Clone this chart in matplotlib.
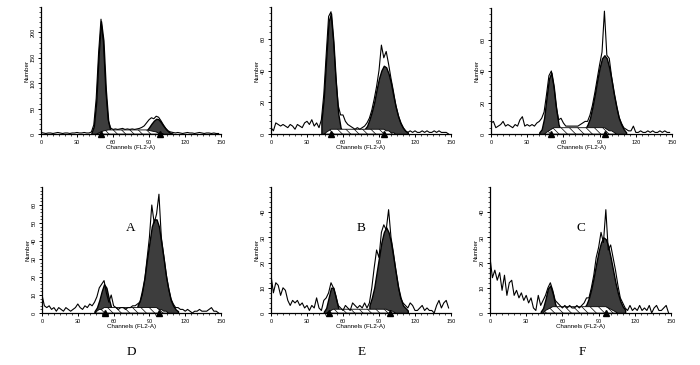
import numpy as np
import matplotlib
matplotlib.use("Agg")
import matplotlib.pyplot as plt
from matplotlib.ticker import MultipleLocator, AutoMinorLocator
import matplotlib.transforms as mtransforms

plt.rcParams['font.family'] = ['Liberation Sans', 'DejaVu Sans']
plt.rcParams['hatch.linewidth'] = 0.5

# channel grid of the histograms (every 2nd channel)
CHANNELS = list(range(0, 150, 2))

# ---------------- Panel A ----------------
A_RAW = [3,2,1,2,2,1,2,3,2,1,2,2,1,2,2,3,2,2,3,2,2,
         4,18,70,160,226,180,85,28,12,9,
         10,9,10,11,9,10,9,10,9,10,11,13,
         16,22,28,32,30,35,33,26,18,11,6,4,3,
         2,3,2,1,2,3,2,2,1,2,3,2,1,2,2,1,2,1,1]
A_G1_START, A_G1 = 42, [2,15,63,156,222,184,87,25,5,0]
A_G2_START, A_G2 = 84, [1,3,7,13,20,26,30,29,23,16,10,5,2,0]
A_S_START, A_S = 46, [0,2,4,6,7,8,8,8,8,8,8,8,8,8,8,8,8,8,8,8,8,8,7,6,5,4,2,1,0]
A_MARKS = [50, 99]
A_YMAX, A_YTICKS = 250, [0, 50, 100, 150, 200]

# ---------------- Panel B ----------------
B_RAW = [4,2,7,6,5,6,5,4,6,5,3,6,5,4,7,8,6,9,5,7,4,
         9,25,50,74,77,60,36,18,12,12,8,6,5,4,3,4,3,4,
         5,7,10,15,22,30,40,56,48,52,44,35,27,18,12,7,4,2,
         1,2,1,2,1,1,2,1,2,1,1,2,1,2,1,1,1,0]
B_G1_START, B_G1 = 42, [8,23,48,71,76,58,33,13,4,1]
B_G2_START, B_G2 = 78, [3,5,9,14,20,28,35,40,43,42,38,32,24,17,11,7,4,2,1]
B_S_START, B_S = 44, [0,1,2,3,3,3,3,3,3,3,3,3,3,3,3,3,3,3,3,3,3,3,3,3,3,3,2,2,1,1,0]
B_MARKS = [50, 94]
B_YMAX, B_YTICKS = 80, [0, 20, 40, 60]

# ---------------- Panel C ----------------
C_RAW = [7,8,4,5,6,8,5,6,5,4,6,5,9,11,5,6,5,6,5,7,
         8,10,14,25,37,40,31,18,9,10,7,5,5,5,5,5,5,6,7,8,
         8,12,18,26,35,44,52,78,50,48,36,26,18,11,7,4,3,2,2,5,1,
         1,2,1,1,2,1,2,1,1,2,1,2,1,1]
C_G1_START, C_G1 = 40, [1,3,10,23,35,39,30,16,6,2,0]
C_G2_START, C_G2 = 78, [3,6,10,17,25,34,42,48,50,48,42,34,25,17,10,6,3,1]
C_S_START, C_S = 44, [0,1,2,3,4,4,4,4,4,4,4,4,4,4,4,4,4,4,4,4,4,4,4,4,4,4,3,2,2,1,0]
C_MARKS = [49.5, 94.5]
C_YMAX, C_YTICKS = 80, [0, 20, 40, 60]

# ---------------- Panel D ----------------
D_RAW = [10,4,3,4,2,3,1,3,2,1,3,2,1,2,3,5,3,2,4,3,5,
         4,6,9,14,16,18,11,6,10,4,3,2,3,3,2,3,3,4,4,5,
         6,10,18,30,42,60,50,55,66,42,32,22,14,8,5,3,3,2,2,1,2,
         1,0,1,1,2,1,1,1,2,3,1,1,0]
D_G1_START, D_G1 = 44, [1,3,7,12,16,14,8,3,1]
D_G2_START, D_G2 = 80, [4,7,13,20,30,39,48,52,52,48,39,30,20,13,7,4,2,1]
D_S_START, D_S = 44, [0,1,2,2,3,3,3,3,3,3,3,3,3,3,3,3,3,3,3,3,3,3,3,3,3,3,3,2,2,1,1,0]
D_MARKS = [53, 98]
D_YMAX, D_YTICKS = 70, [0, 10, 20, 30, 40, 50, 60]

# ---------------- Panel E ----------------
E_RAW = [15,8,12,11,7,10,9,5,3,5,4,5,3,4,2,3,1,3,2,6,2,
         1,5,6,8,12,10,7,3,2,1,3,2,1,4,3,2,3,2,4,2,
         4,10,18,25,22,32,35,33,41,30,24,17,11,6,4,3,2,4,3,1,
         1,2,3,1,2,1,1,0,3,5,2,4,5,2]
E_G1_START, E_G1 = 44, [0.5,2,6,10,10,6,2,0.5]
E_G2_START, E_G2 = 82, [3,6,10,16,22,28,32,34,32,28,22,16,10,6,3,2,1]
E_S_START, E_S = 46, [0,0.5,1,1.5,1.5,1.5,1.5,1.5,1.5,1.5,1.5,1.5,1.5,1.5,1.5,1.5,1.5,1.5,1.5,1.5,1.5,1.5,1.5,1.5,1.5,1.5,1,1,0.5,0]
E_MARKS = [48.5, 99]
E_YMAX, E_YTICKS = 50, [0, 10, 20, 30, 40]

# ---------------- Panel F ----------------
F_RAW = [22,14,17,13,16,9,15,7,12,13,7,9,6,8,5,7,4,6,2,1,7,
         3,5,7,10,12,9,5,4,3,2,3,2,3,2,2,3,2,3,4,6,
         6,10,15,22,26,32,28,41,25,27,22,17,11,6,4,2,1,3,1,2,
         1,3,1,2,1,3,0,2,3,1,1,2,3,0]
F_G1_START, F_G1 = 42, [0.5,2,5.5,9.7,10.9,7.8,3.6,1,0.2]
F_G2_START, F_G2 = 78, [2,3.5,6,9.7,14.3,19.5,24.4,28,30,29.3,26.5,22,17,12,7.9,4.7,2.6,1.3]
F_S_START, F_S = 44, [0,1,1.5,2,2.5,2.5,2.5,2.5,2.5,2.5,2.5,2.5,2.5,2.5,2.5,2.5,2.5,2.5,2.5,2.5,2.5,2.5,2.5,2.5,2.5,2.5,2.5,2,1.5,1,0.5,0]
F_MARKS = [96]
F_YMAX, F_YTICKS = 50, [0, 10, 20, 30, 40]

LABELS = ['A', 'B', 'C', 'D', 'E', 'F']
XTICKS = [0, 30, 60, 90, 120, 150]

PANELS = [
    (A_RAW, A_G1_START, A_G1, A_G2_START, A_G2, A_S_START, A_S, A_MARKS, A_YMAX, A_YTICKS),
    (B_RAW, B_G1_START, B_G1, B_G2_START, B_G2, B_S_START, B_S, B_MARKS, B_YMAX, B_YTICKS),
    (C_RAW, C_G1_START, C_G1, C_G2_START, C_G2, C_S_START, C_S, C_MARKS, C_YMAX, C_YTICKS),
    (D_RAW, D_G1_START, D_G1, D_G2_START, D_G2, D_S_START, D_S, D_MARKS, D_YMAX, D_YTICKS),
    (E_RAW, E_G1_START, E_G1, E_G2_START, E_G2, E_S_START, E_S, E_MARKS, E_YMAX, E_YTICKS),
    (F_RAW, F_G1_START, F_G1, F_G2_START, F_G2, F_S_START, F_S, F_MARKS, F_YMAX, F_YTICKS),
]

W, H = 700, 365
# axes boxes in pixels: left, bottom(y from top), width, height
BOXES = [(41, 134, 180, 127), (271, 134, 180, 127), (491, 134, 181, 126),
         (42, 313, 179, 126), (271, 313, 180, 126), (490, 313, 181, 126)]
CAPTION_POS = [(131, 228), (361, 228), (581, 228), (131, 352), (362, 352), (582, 352)]

fig = plt.figure(figsize=(7.0, 3.65), dpi=100)

def comp_x(start, vals):
    return np.arange(start, start + 2 * len(vals), 2)

DARK = '#3d3d3d'
for (raw, g1s, g1, g2s, g2, ss, s, marks, ymax, yticks), box, lab, cp in zip(PANELS, BOXES, LABELS, CAPTION_POS):
    l, b, w, h = box
    ax = fig.add_axes([l / W, 1 - b / H, w / W, h / H])
    x = np.array(CHANNELS)
    # G1 and G2 model peaks
    for st, vals in ((g1s, g1), (g2s, g2)):
        cx = comp_x(st, vals)
        ax.fill_between(cx, 0, vals, facecolor=DARK, edgecolor='black', linewidth=1.0, zorder=2)
    # S phase (hatched)
    sx = comp_x(ss, s)
    ax.fill_between(sx, 0, s, facecolor='white', edgecolor='black', hatch='\\\\\\\\',
                    linewidth=0.6, zorder=3)
    # raw histogram
    ax.plot(x, raw, color='black', linewidth=0.8, zorder=4)
    # peak markers
    trans = mtransforms.blended_transform_factory(ax.transData, ax.transData)
    ax.plot(marks, [0] * len(marks), linestyle='none', marker='^', markersize=4.5,
            color='black', clip_on=False, zorder=6, transform=trans)

    ax.set_xlim(0, 150)
    ax.set_ylim(0, ymax)
    ax.set_xticks(XTICKS)
    ax.set_yticks(yticks)
    ax.xaxis.set_minor_locator(MultipleLocator(5))
    ax.yaxis.set_minor_locator(AutoMinorLocator(5))
    for sp in ('top', 'right'):
        ax.spines[sp].set_visible(False)
    for sp in ('left', 'bottom'):
        ax.spines[sp].set_linewidth(0.9)
    ax.tick_params(axis='both', which='major', length=2.5, width=0.7, labelsize=4, pad=1.5)
    ax.tick_params(axis='both', which='minor', length=1.5, width=0.5)
    plt.setp(ax.get_yticklabels(), rotation=90, va='center')
    ax.set_xlabel('Channels (FL2-A)', fontsize=4.5, labelpad=0)
    ax.set_ylabel('Number', fontsize=4.5, labelpad=1)
    fig.text(cp[0] / W, 1 - cp[1] / H, lab, ha='center', va='center',
             fontsize=9.5, family=['Liberation Serif', 'DejaVu Serif'])

fig.savefig('out.png', dpi=100, facecolor='white')
